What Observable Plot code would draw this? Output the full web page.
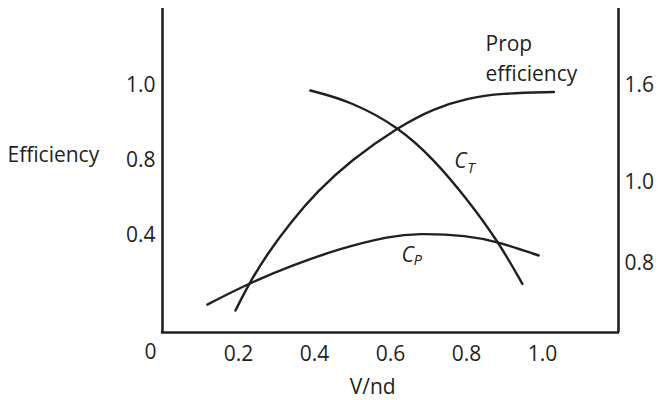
<!DOCTYPE html>
<html>
<head>
<meta charset="utf-8">
<script src="https://cdn.jsdelivr.net/npm/d3@7"></script>
<script src="https://cdn.jsdelivr.net/npm/@observablehq/plot@0.6"></script>
<style>
  html, body { margin: 0; padding: 0; background: #fff; }
  #chart svg { display: block; }
</style>
</head>
<body>
<div id="chart"></div>
<script>
// V/nd positions and heights (in the chart's internal vertical units)
const propEffX = [0.192, 0.227, 0.276, 0.337, 0.407, 0.495, 0.622, 0.714, 0.802, 0.889, 1.030];
const propEffY = [0.088, 0.195, 0.316, 0.442, 0.566, 0.690, 0.826, 0.899, 0.940, 0.960, 0.965];

const ctX = [0.389, 0.495, 0.622, 0.714, 0.802, 0.885, 0.947];
const ctY = [0.971, 0.928, 0.824, 0.695, 0.535, 0.362, 0.195];

const cpX = [0.118, 0.227, 0.337, 0.468, 0.600, 0.670, 0.802, 0.885, 0.990];
const cpY = [0.112, 0.197, 0.267, 0.338, 0.387, 0.398, 0.390, 0.363, 0.309];

// axis ticks
const xTicks = [0.2, 0.4, 0.6, 0.8, 1.0];
const xTickLabels = ["0.2", "0.4", "0.6", "0.8", "1.0"];
const leftTickPos = [0.991, 0.690, 0.389];
const leftTickLabels = ["1.0", "0.8", "0.4"];
const rightTickPos = [0.991, 0.602, 0.277];
const rightTickLabels = ["1.6", "1.0", "0.8"];

const ink = "#231f20";
const font = "Open Sans, Noto Sans, sans-serif";

const toPts = (xs, ys) => xs.map((x, i) => ({x, y: ys[i]}));
const propEff = toPts(propEffX, propEffY);
const ct = toPts(ctX, ctY);
const cp = toPts(cpX, cpY);

const chart = Plot.plot({
  width: 658,
  height: 400,
  marginLeft: 162,
  marginRight: 40,
  marginTop: 8,
  marginBottom: 68,
  style: {fontFamily: font, fontSize: "21px", color: ink, background: "#fff"},
  x: {domain: [0, 1.2]},
  y: {domain: [0, 1.3]},
  marks: [
    Plot.axisX({ticks: xTicks, tickSize: 0, tickPadding: 14, fontSize: 21,
      tickFormat: d => xTickLabels[xTicks.indexOf(d)], label: null}),
    Plot.axisY({anchor: "left", ticks: leftTickPos, tickSize: 0, tickPadding: 7, fontSize: 21,
      tickFormat: d => leftTickLabels[leftTickPos.indexOf(d)], label: null}),
    Plot.axisY({anchor: "right", ticks: rightTickPos, tickSize: 0, tickPadding: 6, fontSize: 21,
      tickFormat: d => rightTickLabels[rightTickPos.indexOf(d)], label: null}),
    // frame lines
    Plot.ruleX([0, 1.2], {y1: 0, y2: 1.3, stroke: ink, strokeWidth: 2.6}),
    Plot.ruleY([0], {x1: -0.003, x2: 1.203, stroke: ink, strokeWidth: 2.6}),
    // curves
    Plot.line(propEff, {x: "x", y: "y", curve: "basis", stroke: ink, strokeWidth: 2.4}),
    Plot.line(ct, {x: "x", y: "y", curve: "basis", stroke: ink, strokeWidth: 2.4}),
    Plot.line(cp, {x: "x", y: "y", curve: "basis", stroke: ink, strokeWidth: 2.4}),
    // labels
    Plot.text(["0"], {x: 0, y: 0, dx: -12, dy: 20, fontSize: 21, fill: ink}),
    Plot.text(["V/nd"], {x: 0.553, y: 0, dy: 55, fontSize: 21, fill: ink}),
    Plot.text(["Efficiency"], {x: 0, y: 0.71, dx: -155, textAnchor: "start", fontSize: 21, fill: ink}),
    Plot.text(["Prop\nefficiency"], {x: 0.85, y: 1.108, textAnchor: "start", lineHeight: 1.45, fontSize: 21, fill: ink}),
    Plot.text(["C"], {x: 0.784, y: 0.686, fontSize: 21, fontStyle: "italic", fill: ink}),
    Plot.text(["T"], {x: 0.812, y: 0.658, fontSize: 15, fontStyle: "italic", fill: ink}),
    Plot.text(["C"], {x: 0.645, y: 0.309, fontSize: 21, fontStyle: "italic", fill: ink}),
    Plot.text(["P"], {x: 0.672, y: 0.289, fontSize: 15, fontStyle: "italic", fill: ink})
  ]
});
document.getElementById("chart").appendChild(chart);
</script>
</body>
</html>
